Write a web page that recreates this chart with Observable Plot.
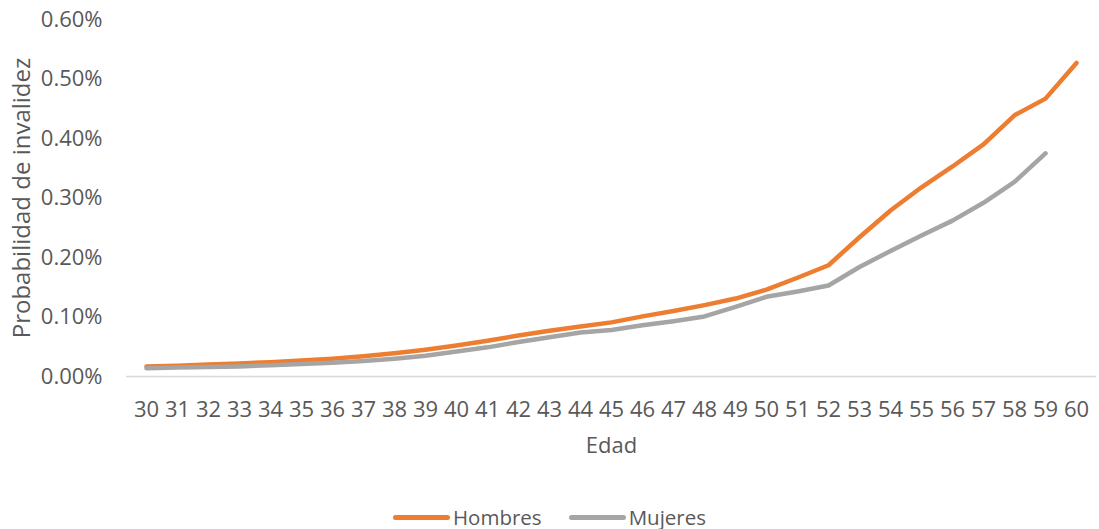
<!DOCTYPE html>
<html>
<head>
<meta charset="utf-8">
<script src="https://cdn.jsdelivr.net/npm/d3@7"></script>
<script src="https://cdn.jsdelivr.net/npm/@observablehq/plot@0.6"></script>
<style>
  html, body { margin: 0; padding: 0; background: #fff; }
  body { width: 1099px; height: 529px; overflow: hidden; font-family: "Open Sans", sans-serif; }
  #legend { display: flex; justify-content: center; align-items: center; gap: 27px; font-size: 20.5px; color: #595959; margin-top: 33px; }
  .item { display: flex; align-items: center; }
  .sw { width: 57px; height: 5px; border-radius: 3px; margin-right: 3px; }
</style>
</head>
<body>
<div id="chart"></div>
<div id="legend"></div>
<script>
const ages = [30,31,32,33,34,35,36,37,38,39,40,41,42,43,44,45,46,47,48,49,50,51,52,53,54,55,56,57,58,59,60];
const hombres = [0.017,0.018,0.020,0.022,0.024,0.027,0.030,0.034,0.039,0.045,0.052,0.060,0.069,0.077,0.084,0.091,0.101,0.110,0.120,0.131,0.146,0.166,0.187,0.234,0.279,0.318,0.353,0.390,0.439,0.467,0.527];
const mujeres = [0.014,0.015,0.016,0.017,0.019,0.021,0.023,0.026,0.030,0.035,0.042,0.049,0.058,0.066,0.074,0.078,0.086,0.093,0.101,0.117,0.134,0.143,0.153,0.184,0.211,0.237,0.262,0.292,0.327,0.375];
const series = ["Hombres", "Mujeres"];
const colors = ["#ED7D31", "#A5A5A5"];
const yTitle = "Probabilidad de invalidez";
const xTitle = "Edad";

const data = [];
ages.forEach((a, i) => { if (hombres[i] != null) data.push({edad: a, serie: "Hombres", p: hombres[i] / 100}); });
ages.forEach((a, i) => { if (mujeres[i] != null) data.push({edad: a, serie: "Mujeres", p: mujeres[i] / 100}); });

const chart = Plot.plot({
  width: 1099,
  height: 470,
  marginLeft: 126,
  marginRight: 3,
  marginTop: 19,
  marginBottom: 94,
  style: { fontFamily: "Open Sans, sans-serif", fontSize: "22px", color: "#595959", background: "#fff" },
  x: { type: "point", domain: ages, padding: 0.5 },
  y: { domain: [0, 0.006] },
  color: { domain: series, range: colors },
  marks: [
    Plot.axisY({ ticks: d3.range(0, 0.0061, 0.001), tickFormat: d => (d * 100).toFixed(2) + "%", tickSize: 0, tickPadding: 24,
      label: null, fontSize: 22 }),
    Plot.text([yTitle], { frameAnchor: "left", rotate: -90, dx: -104, textAnchor: "middle", lineAnchor: "middle", fontSize: 24, fill: "#595959" }),
    Plot.axisX({ tickSize: 0, tickPadding: 25, label: xTitle, labelAnchor: "center", labelArrow: "none", labelOffset: 76, fontSize: 22 }),
    Plot.ruleY([0], { stroke: "#d9d9d9", strokeWidth: 1.5 }),
    Plot.line(data, { x: "edad", y: "p", z: "serie", stroke: "serie", strokeWidth: 4.5, strokeLinecap: "round", strokeLinejoin: "round" })
  ]
});
document.getElementById("chart").appendChild(chart);

const legend = document.getElementById("legend");
series.forEach((s, i) => {
  const item = document.createElement("div");
  item.className = "item";
  const sw = document.createElement("div");
  sw.className = "sw";
  sw.style.background = colors[i];
  const t = document.createElement("span");
  t.textContent = s;
  item.appendChild(sw); item.appendChild(t);
  legend.appendChild(item);
});
</script>
</body>
</html>
